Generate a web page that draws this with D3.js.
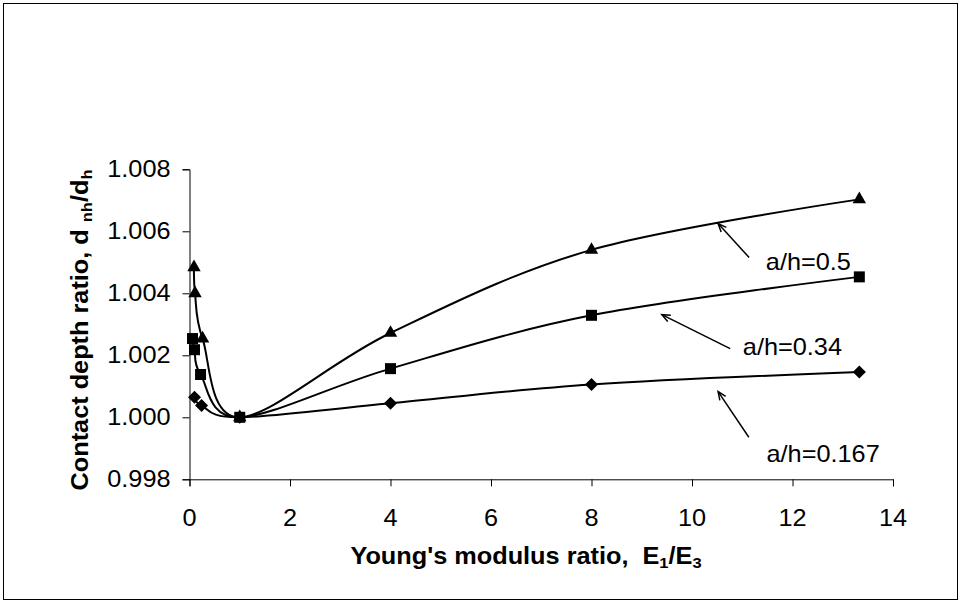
<!DOCTYPE html>
<html>
<head>
<meta charset="utf-8">
<script src="https://cdn.jsdelivr.net/npm/d3@7"></script>
<style>
  body { margin: 0; background: #fff; }
  text { font-family: "Liberation Sans", Arial, sans-serif; fill: #000; }
</style>
</head>
<body>
<div id="chart"></div>
<script>
// --- data ---
const triX = [0.09, 0.11, 0.26, 1, 4, 8, 13.33]
const triY = [1.00484, 1.00400, 1.00254, 1.00000, 1.00272, 1.00540, 1.00703]
const sqX = [0.06, 0.10, 0.22, 1, 4, 8, 13.33]
const sqY = [1.00254, 1.00218, 1.00138, 1.00000, 1.00157, 1.00329, 1.00453]
const diaX = [0.10, 0.24, 1, 4, 8, 13.33]
const diaY = [1.00065, 1.00038, 1.00000, 1.00045, 1.00106, 1.00146]

const xTicks = [0, 2, 4, 6, 8, 10, 12, 14]
const yTicks = [0.998, 1.000, 1.002, 1.004, 1.006, 1.008]

const labels = ['a/h=0.5', 'a/h=0.34', 'a/h=0.167']
const labelX = [10.52, 9.40, 10.52]
const labelY = [1.00625, 1.00331, 1.00083]

const width = 963
const height = 606
const sx = 1.1   // glyphs in the reference are a bit wider than Arial
const fs = 23

const x = d3.scaleLinear().domain([0, 14]).range([189.5, 893])
const y = d3.scaleLinear().domain([0.998, 1.008]).range([479.3, 169.3])

const svg = d3.select('#chart').append('svg')
  .attr('width', width)
  .attr('height', height)

svg.append('rect')
  .attr('x', 3.5).attr('y', 3.5)
  .attr('width', 954).attr('height', 596)
  .attr('fill', 'none').attr('stroke', '#000').attr('stroke-width', 1)

function stretched(g, px, py, rot) {
  return g.append('text')
    .attr('transform', 'translate(' + px + ',' + py + ')' + (rot ? ' rotate(' + rot + ')' : '') + ' scale(' + sx + ',1)')
}

// --- axes ---
const yAxis = svg.append('g')
  .attr('transform', 'translate(' + x(0) + ',0)')
  .call(d3.axisLeft(y).tickValues(yTicks).tickSize(7).tickFormat(''))
const xAxis = svg.append('g')
  .attr('transform', 'translate(0,' + y(0.998) + ')')
  .call(d3.axisBottom(x).tickValues(xTicks).tickSize(7).tickFormat(''))

svg.selectAll('.domain').attr('stroke', '#000')
svg.selectAll('.tick line').attr('stroke', '#000')

yTicks.forEach(function(v) {
  stretched(svg, x(0) - 19, y(v) + 8)
    .attr('text-anchor', 'end')
    .style('font-size', fs + 'px')
    .text(d3.format('.3f')(v))
})
xTicks.forEach(function(v) {
  stretched(svg, x(v), 526)
    .attr('text-anchor', 'middle')
    .style('font-size', fs + 'px')
    .text(v)
})

// axis titles
const xt = stretched(svg, 526, 564)
  .attr('text-anchor', 'middle')
  .style('font-size', fs + 'px')
  .style('font-weight', 'bold')
xt.append('tspan').text("Young's modulus ratio,\u00a0 E")
xt.append('tspan').attr('dy', 4).style('font-size', '15px').text('1')
xt.append('tspan').attr('dy', -4).text('/E')
xt.append('tspan').attr('dy', 4).style('font-size', '15px').text('3')

const yt = stretched(svg, 88, 330, -90)
  .attr('text-anchor', 'middle')
  .style('font-size', fs + 'px')
  .style('font-weight', 'bold')
yt.append('tspan').text('Contact depth ratio, d ')
yt.append('tspan').attr('dy', 4).style('font-size', '15px').text('nh')
yt.append('tspan').attr('dy', -4).text('/d')
yt.append('tspan').attr('dy', 4).style('font-size', '15px').text('h')

// --- series ---
const series = [
  { xs: triX, ys: triY, sym: d3.symbolTriangle, size: 78, rot: 0 },
  { xs: sqX, ys: sqY, sym: d3.symbolSquare, size: 121, rot: 0 },
  { xs: diaX, ys: diaY, sym: d3.symbolSquare, size: 85, rot: 45 }
]

const line = d3.line()
  .x(d => x(d[0]))
  .y(d => y(d[1]))
  .curve(d3.curveCardinal.tension(0))

series.forEach(function(s) {
  const pts = s.xs.map((v, i) => [v, s.ys[i]])
  svg.append('path')
    .attr('d', line(pts))
    .attr('fill', 'none')
    .attr('stroke', '#000')
    .attr('stroke-width', 2)
  svg.append('g').selectAll('path')
    .data(pts)
    .join('path')
      .attr('d', d3.symbol().type(s.sym).size(s.size))
      .attr('transform', d => 'translate(' + x(d[0]) + ',' + y(d[1]) + ') rotate(' + s.rot + ')')
      .attr('fill', '#000')
})

// --- annotations: arrow head sits on the curve, tail and label offset in px ---
const tailDx = [31, 68.3, 30.7]
const tailDy = [34, 34, 45.7]
const textDx = [47.7, 81, 48.4]
const textDy = [46, 40.7, 70.7]

labels.forEach(function(lab, i) {
  const hx = x(labelX[i])
  const hy = y(labelY[i])
  const tx = hx + tailDx[i]
  const ty = hy + tailDy[i]
  svg.append('line')
    .attr('x1', tx).attr('y1', ty).attr('x2', hx).attr('y2', hy)
    .attr('stroke', '#000').attr('stroke-width', 1.5)
  const ang = Math.atan2(ty - hy, tx - hx)
  const len = 9
  const spread = 0.4
  svg.append('path')
    .attr('d', 'M' + (hx + len * Math.cos(ang - spread)) + ',' + (hy + len * Math.sin(ang - spread)) +
               'L' + hx + ',' + hy +
               'L' + (hx + len * Math.cos(ang + spread)) + ',' + (hy + len * Math.sin(ang + spread)))
    .attr('fill', 'none').attr('stroke', '#000').attr('stroke-width', 1.5)
  stretched(svg, hx + textDx[i], hy + textDy[i])
    .style('font-size', fs + 'px')
    .text(lab)
})
</script>
</body>
</html>
